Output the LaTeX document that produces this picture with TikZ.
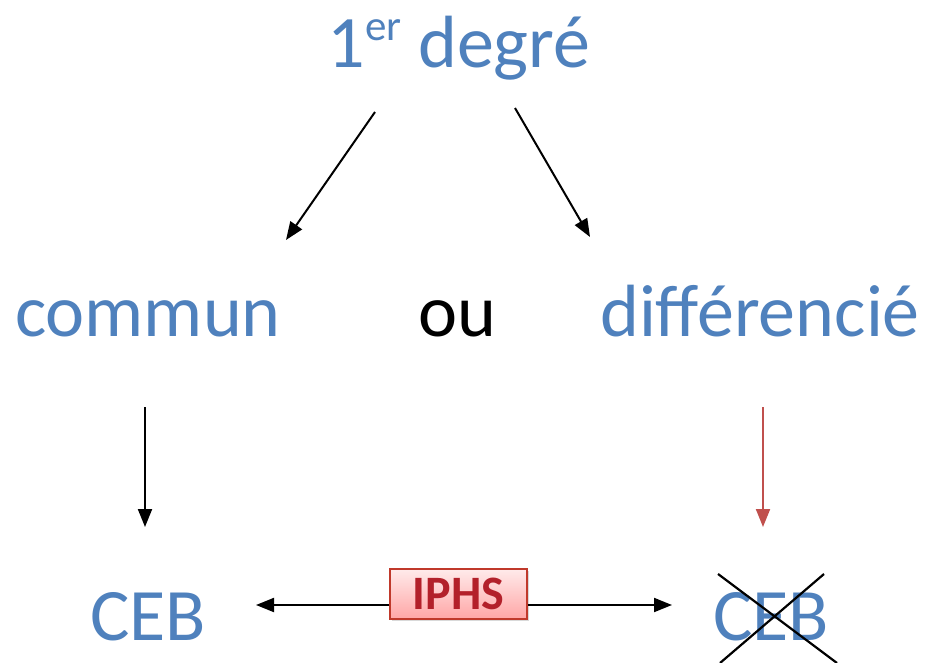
\documentclass[tikz,border=0pt]{standalone}
\usepackage{fontspec}
\setmainfont{Carlito}
\usetikzlibrary{arrows.meta,shadows}
\definecolor{txtblue}{HTML}{4F81BD}
\definecolor{arrred}{HTML}{C0504D}
\definecolor{boxred}{HTML}{C0392B}
\definecolor{iphsred}{HTML}{B3202A}
\begin{document}
\begin{tikzpicture}[x=1pt,y=-1pt,
  big/.style={font=\fontsize{74}{74}\selectfont, text=txtblue, anchor=base, inner sep=0pt},
  arr/.style={-{Triangle[length=18pt,width=14pt]}, line width=2pt},
  crossline/.style={line width=2.2pt}]
\useasboundingbox (0,0) rectangle (925,663);
% top
\node[big] (top) at (459,68) {1\raisebox{27pt}{\fontsize{43}{43}\selectfont er} degré};
\node[big] (commun) at (148,336) {commun};
\node[big, text=black] (ou) at (457,336) {ou};
\node[big] (diff) at (760,336) {différencié};
\node[big] (ceb1) at (148,640) {CEB};
\node[big] (ceb2) at (771,640) {CEB};
% IPHS box
\node[draw=boxred, line width=1.5pt, top color=red!8, bottom color=red!35, minimum width=137pt, minimum height=50pt, inner sep=0pt, drop shadow={opacity=0.3, shadow xshift=1.5pt, shadow yshift=-1.5pt}] (iphs) at (458.5,594) {\fontsize{48}{48}\selectfont\bfseries\color{iphsred}IPHS};
% coordinates for arrows
\coordinate (a1s) at (375,112); \coordinate (a1e) at (286,240);
\coordinate (a2s) at (515,108); \coordinate (a2e) at (590,237);
\coordinate (a3s) at (145,407); \coordinate (a3e) at (145,527);
\coordinate (a4s) at (763,407); \coordinate (a4e) at (763,527);
\coordinate (hl) at (256,605); \coordinate (hr) at (672,605);
\draw[arr] (a1s) -- (a1e);
\draw[arr] (a2s) -- (a2e);
\draw[arr] (a3s) -- (a3e);
\draw[arr, color=arrred] (a4s) -- (a4e);
\draw[arr] (iphs.west |- hl) -- (hl);
\draw[arr] (iphs.east |- hr) -- (hr);
% cross
\coordinate (c1) at (718,574); \coordinate (c2) at (837,663);
\coordinate (c3) at (824,574); \coordinate (c4) at (720,663);
\draw[crossline] (c1) -- (c2);
\draw[crossline] (c3) -- (c4);
\end{tikzpicture}
\end{document}
